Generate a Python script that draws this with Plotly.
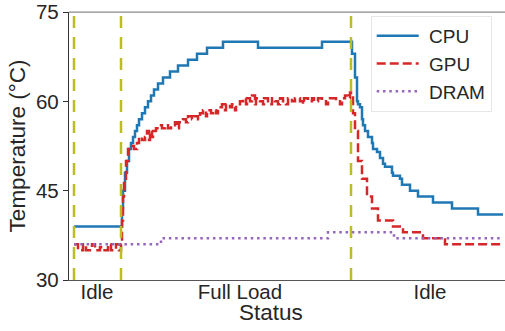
import plotly.graph_objects as go

# ---- data (time in samples, temperatures in °C) ----
cpu_t = [0, 48, 49, 51, 53, 55, 57, 59, 61, 63, 65, 68, 71, 74, 77, 80, 84, 89, 96, 104, 114, 123, 133, 149,
         184, 248, 278, 281, 283, 284, 286, 288, 289, 291, 294, 298, 299, 303, 306, 309, 311, 318, 319, 326,
         328, 336, 344, 359, 378, 404, 429]
cpu_v = [39, 42, 45, 48, 50, 52, 53, 54, 55, 56, 57, 58, 59, 60, 61, 62, 63, 64, 65, 66, 67, 68, 69, 70,
         69, 70, 68, 64, 60, 59.5, 59, 57, 56, 55, 54, 53, 52, 51.5, 50.5, 49.5, 49, 48, 47.5, 47,
         46, 45, 44, 43, 42, 41, 41]

gpu_t = [0, 4, 9, 12, 18, 21, 26, 29, 34, 37, 42, 45, 47,
         48, 49, 50, 52, 54, 57, 60, 63, 65, 68, 71, 73, 75, 76, 78, 79, 82, 85, 88, 91, 94, 97, 101, 103,
         105, 109, 112, 114, 118, 120, 124, 126, 129, 132, 133, 137, 139, 142, 144, 148, 151, 152, 156, 158,
         161, 162, 166, 169, 172, 173, 176, 178, 181, 182, 186, 189, 190, 194, 196, 198, 201, 204, 206, 209,
         212, 214, 218, 221, 226, 229, 230, 234, 238, 240, 244, 248, 252, 254, 258, 262, 266, 268, 271, 274,
         276, 277, 279, 281, 284, 288, 293, 298, 304, 319, 329, 349, 371, 429]
gpu_v = [36, 35, 36, 35, 36, 35, 35.5, 35, 36, 35, 36, 35, 36,
         40, 44, 47, 50, 52, 52.5, 52, 53, 54, 53.5, 54, 55, 53.5, 55, 54, 55, 55.5, 56, 55.5, 56, 55.5, 56, 56.5, 55.5,
         56.5, 57, 56.5, 57.5, 57, 57.5, 57, 58, 58.5, 57.5, 58.5, 58, 58.5, 58, 59, 59.5, 58.5, 59.5, 59, 59.5,
         58.5, 59.5, 60, 60.5, 59.5, 60.5, 60, 61, 59.5, 60.5, 60, 59.5, 60.5, 60, 59.5, 60.5, 60, 59.5, 60.5, 60,
         59.5, 60.5, 60, 60.5, 60, 59.5, 60.5, 60, 60.5, 60, 60.5, 60, 59.5, 60.5, 60.5, 60, 59.5, 60.5, 61, 60.5,
         61.5, 61, 58, 55, 50, 47, 44, 42, 40, 39, 38, 37, 36, 36]

dram_t = [0, 87, 254, 320, 429]
dram_v = [36, 37, 38, 37, 37]

phase_bounds = [0, 47, 277]
phase_ticks = [23, 166, 356]
phase_labels = ["Idle", "Full Load", "Idle"]

TXT = "#262626"
FONT = "Liberation Sans, Arial, sans-serif"

fig = go.Figure()
fig.add_trace(go.Scatter(x=cpu_t, y=cpu_v, name="\u00a0CPU", mode="lines", line_shape="hv",
                         line=dict(color="#1f77b4", width=2.5), legendgroup="a"))
fig.add_trace(go.Scatter(x=gpu_t, y=gpu_v, name="\u00a0GPU", mode="lines", line_shape="hv",
                         line=dict(color="#d62728", width=2.5, dash="9px,4px"), legendgroup="b"))
fig.add_trace(go.Scatter(x=dram_t, y=dram_v, name="\u00a0DRAM", mode="lines", line_shape="hv",
                         line=dict(color="#9467bd", width=2.5, dash="2.5px,3.8px"), legendgroup="c"))

for b in phase_bounds:
    fig.add_vline(x=b, line=dict(color="#bcbd22", width=2.5, dash="12px,9px"))

# lighter top spine
fig.add_shape(type="line", xref="paper", yref="paper", x0=0, x1=1, y0=1, y1=1,
              line=dict(color="#8a8a8a", width=1.25), layer="below")

fig.update_layout(
    width=505, height=331,
    margin=dict(l=69, r=0, t=12, b=51),
    plot_bgcolor="white", paper_bgcolor="white",
    font=dict(family=FONT, color=TXT, size=20),
    showlegend=True,
    legend=dict(x=0.692, y=0.985, xanchor="left", yanchor="top",
                bgcolor="white", bordercolor="#e6e6e6", borderwidth=1,
                font=dict(size=19, color=TXT), itemwidth=42, tracegroupgap=3,
                traceorder="normal"),
    xaxis=dict(range=[-5, 431], showgrid=False, zeroline=False, showline=True,
               linecolor="#555", linewidth=1.25,
               tickmode="array", tickvals=phase_ticks, ticktext=phase_labels,
               ticks="", ticklabelstandoff=-7, tickfont=dict(size=20.5, color=TXT)),
    yaxis=dict(range=[30, 75], showgrid=False, zeroline=False, showline=True,
               linecolor="#333", linewidth=1.25,
               tickmode="array", tickvals=[30, 45, 60, 75], ticks="outside", ticklen=5,
               tickcolor="#333", tickwidth=1.25, tickfont=dict(size=20.5, color=TXT),
               title=dict(text="Temperature (°C)", font=dict(size=22.5, color=TXT), standoff=4)),
)
fig.add_annotation(text="Status", showarrow=False, font=dict(size=22.5, color=TXT),
                   xref="paper", yref="paper",
                   x=(270.5 - 69) / (505 - 69), y=(280 - 312) / 268,
                   xanchor="center", yanchor="middle")

fig.write_html("out.html")
